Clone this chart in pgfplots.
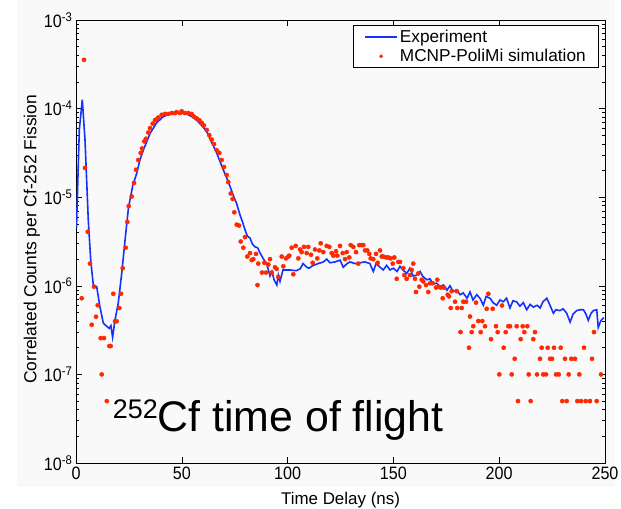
\documentclass[border=0pt]{standalone}
\usepackage{fontspec}
\setmainfont{Liberation Sans}
\newfontfamily\tickfont{Liberation Sans}[FakeStretch=0.9]
\usepackage{pgfplots}
\pgfplotsset{compat=1.18}
\definecolor{expblue}{RGB}{20,50,255}
\definecolor{simred}{RGB}{255,40,0}
\definecolor{bggray}{RGB}{249,249,249}
\pgfplotsset{
  explegend/.style={legend image code/.code={\draw[##1] (0bp,0bp) -- (32bp,0bp);}},
  simlegend/.style={legend image code/.code={\draw[mark repeat=2,mark phase=2,##1,mark size=1.5bp] plot coordinates {(0bp,0bp) (16bp,0bp) (32bp,0bp)};}},
}
\begin{document}
\begin{tikzpicture}
\useasboundingbox (0,0) rectangle (621bp,509bp);
\fill[bggray] (17bp,22bp) rectangle (615bp,509bp);
\begin{axis}[
  at={(76bp,46bp)}, anchor=south west,
  scale only axis, width=529bp, height=443bp,
  ymode=log, xmin=0, xmax=250, ymin=1e-8, ymax=1e-3,
  xtick={0,50,100,150,200,250},
  xticklabels={0,50,100,150,200,250},
  ytick={1e-8,1e-7,1e-6,1e-5,1e-4,1e-3},
  yticklabels={10\textsuperscript{-8},10\textsuperscript{-7},10\textsuperscript{-6},10\textsuperscript{-5},10\textsuperscript{-4},10\textsuperscript{-3}},
  xticklabel style={font=\tickfont\fontsize{18}{18}\selectfont},
  yticklabel style={font=\tickfont\fontsize{18}{18}\selectfont},
  major tick length=6bp, minor tick length=3bp,
  every tick/.style={black, line width=0.6bp},
  axis line style={black, line width=0.8bp},
  xlabel={Time Delay (ns)},
  xlabel style={at={(axis description cs:0.5,-0.0926)}, anchor=base, font=\fontsize{17}{17}\selectfont},
  ylabel={Correlated Counts per Cf-252 Fission},
  ylabel style={at={(axis description cs:-0.0832,0.505)}, anchor=center, font=\fontsize{17.5}{18}\selectfont},
  legend cell align=left,
  legend style={at={(rel axis cs:0.9887,0.9887)}, anchor=north east, draw=black, line width=0.6bp, fill=white,
    font=\fontsize{17.3}{19}\selectfont, inner xsep=11bp, inner ysep=2.5bp, row sep=1.5bp},
]
\addplot[color=expblue, line width=1.6bp, mark=none, explegend] coordinates {
(0.24,4.57e-6) (1.56,5.75e-5) (2.98,1.26e-4) (4.25,4.47e-5) (5.81,5.50e-6) (6.95,1.95e-6)
(8.18,1.02e-6) (9.78,9.77e-7) (11.34,5.75e-7) (12.9,3.80e-7) (13.7,3.63e-7) (15.7,3.31e-7)
(16.5,3.55e-7) (17.3,2.63e-7) (18.4,4.07e-7) (20.0,6.46e-7) (21.6,1.38e-6) (23.2,3.31e-6)
(24.7,7.24e-6) (25.5,9.33e-6) (26.9,1.38e-5) (28.7,1.86e-5) (30.2,2.63e-5) (31.8,3.39e-5)
(35.0,5.25e-5) (38.1,6.92e-5) (41.3,8.13e-5) (44.4,8.71e-5) (47.6,8.91e-5) (50.1,8.91e-5)
(52.3,8.71e-5) (54.7,8.13e-5) (57.0,7.41e-5) (59.4,6.46e-5) (61.8,5.50e-5) (64.1,4.17e-5)
(66.5,3.16e-5) (68.1,2.51e-5) (69.6,2.04e-5) (71.2,1.66e-5) (72.8,1.32e-5) (74.3,1.05e-5)
(75.9,8.51e-6) (77.5,6.31e-6) (78.7,5.25e-6) (79.9,4.27e-6) (81.0,3.63e-6) (82.2,3.47e-6)
(83.4,2.95e-6) (84.6,2.75e-6) (85.8,2.69e-6) (87.0,2.34e-6) (88.4,2.04e-6) (90.1,1.78e-6)
(91.7,1.29e-6) (92.6,1.45e-6) (93.6,1.17e-6) (94.9,1.02e-6) (95.6,1.32e-6) (96.4,1.12e-6)
(97.8,1.51e-6) (101.1,1.51e-6) (104.0,1.48e-6) (105.9,1.55e-6) (107.3,1.78e-6) (109.0,1.62e-6)
(110.1,1.58e-6) (112.1,1.70e-6) (114.4,1.78e-6) (116.9,1.86e-6) (118.5,2.00e-6) (120.0,1.82e-6)
(122.4,1.86e-6) (124.8,1.95e-6) (126.3,1.62e-6) (128.1,1.78e-6) (129.5,1.86e-6) (131.9,1.78e-6)
(134.2,1.82e-6) (136.6,1.86e-6) (138.9,1.78e-6) (140.5,1.45e-6) (141.8,1.78e-6) (143.7,1.62e-6)
(145.2,1.51e-6) (146.8,1.70e-6) (148.4,1.51e-6) (150.0,1.58e-6) (151.7,1.45e-6) (153.1,1.66e-6)
(154.5,1.51e-6) (156.3,1.38e-6) (157.8,1.58e-6) (159.3,1.29e-6) (161.0,1.32e-6) (162.6,1.45e-6)
(164.1,1.26e-6) (165.9,1.17e-6) (167.3,1.20e-6) (168.7,1.05e-6) (170.5,1.07e-6) (172.0,9.77e-7)
(173.6,1.02e-6) (175.3,8.91e-7) (176.7,1.00e-6) (178.2,8.71e-7) (179.9,8.91e-7) (181.5,7.94e-7)
(183.0,8.32e-7) (184.8,7.24e-7) (186.2,8.51e-7) (187.6,6.92e-7) (189.4,7.94e-7) (190.9,7.24e-7)
(192.5,6.03e-7) (193.8,7.59e-7) (195.7,7.24e-7) (197.1,6.46e-7) (198.8,6.03e-7) (200.4,6.92e-7)
(201.9,6.61e-7) (203.5,7.24e-7) (205.1,5.62e-7) (206.5,6.76e-7) (208.2,6.61e-7) (209.8,5.89e-7)
(211.4,6.46e-7) (213.0,5.37e-7) (214.6,6.17e-7) (216.1,5.75e-7) (217.9,6.03e-7) (219.3,5.62e-7)
(220.7,6.61e-7) (222.5,7.24e-7) (224.0,6.03e-7) (225.6,4.90e-7) (226.8,5.37e-7) (228.7,5.25e-7)
(230.2,5.50e-7) (231.9,4.90e-7) (233.5,3.89e-7) (234.9,4.79e-7) (236.6,5.25e-7) (238.2,5.37e-7)
(239.8,5.37e-7) (241.0,4.79e-7) (242.1,4.07e-7) (243.4,4.90e-7) (244.5,5.25e-7) (246.1,5.37e-7)
(246.8,3.39e-7) (248.1,4.07e-7) (249.5,4.37e-7)
};
\addlegendentry{Experiment}
\addplot[only marks, mark=*, color=simred, mark size=2.1bp, mark options={draw=none, fill=simred}, simlegend] coordinates {
(3.78,3.55e-4) (4.25,2.14e-5) (5.53,4.07e-6) (6.62,1.78e-6) (8.51,9.77e-7) (2.69,7.24e-7)
(10.26,6.03e-7) (9.45,4.47e-7) (7.42,3.63e-7) (11.67,2.57e-7) (13.23,2.57e-7) (15.74,2.09e-7)
(16.40,2.09e-7) (12.15,1.0e-7) (14.56,5.0e-8) (17.63,8.13e-7) (18.43,3.98e-7) (19.23,3.98e-7)
(20.46,5.62e-7) (21.27,8.13e-7) (22.07,1.58e-6) (23.49,2.69e-6) (24.24,5.25e-6) (24.91,7.94e-6)
(26.32,1.02e-5) (27.41,1.45e-5) (28.36,2.04e-5) (29.44,2.63e-5) (30.58,3.16e-5) (31.19,3.55e-5)
(32.28,4.27e-5) (33.08,4.57e-5) (34.17,5.37e-5) (34.97,6.03e-5) (36.25,6.76e-5) (37.33,7.41e-5)
(38.14,7.59e-5) (38.89,7.94e-5) (40.50,8.51e-5) (42.06,8.71e-5) (43.62,8.71e-5) (45.23,8.91e-5)
(46.79,8.91e-5) (47.59,9.12e-5) (49.15,8.91e-5) (49.95,9.33e-5) (51.51,8.91e-5) (53.07,8.91e-5)
(54.68,8.71e-5) (55.77,8.13e-5) (57.04,7.76e-5) (58.27,7.41e-5) (59.40,6.92e-5) (60.49,6.46e-5)
(61.77,5.75e-5) (63.00,5.01e-5) (64.13,4.47e-5) (65.22,3.98e-5) (66.49,3.39e-5) (67.72,3.16e-5)
(68.86,2.63e-5) (69.94,2.19e-5) (71.22,1.78e-5) (71.97,1.48e-5) (73.11,1.10e-5) (74.05,9.55e-6)
(74.81,6.76e-6) (75.95,4.90e-6) (77.03,4.79e-6) (77.84,3.16e-6) (79.06,2.69e-6) (79.87,3.55e-6)
(80.95,2.14e-6) (82.23,2.34e-6) (83.03,1.95e-6) (83.79,2.00e-6) (85.07,2.29e-6) (86.15,1.78e-6)
(85.78,1.02e-6) (87.90,1.41e-6) (88.99,1.82e-6) (89.79,1.41e-6) (90.88,1.74e-6) (91.68,2.00e-6)
(92.49,1.41e-6) (94.05,1.62e-6) (94.85,1.55e-6) (95.60,1.26e-6) (97.21,2.14e-6) (97.97,1.66e-6)
(99.24,2.04e-6) (100.33,2.14e-6) (100.80,2.19e-6) (101.94,2.69e-6) (102.69,1.35e-6) (103.83,2.82e-6)
(105.06,2.04e-6) (105.86,2.57e-6) (106.66,2.40e-6) (107.75,2.75e-6) (109.03,2.34e-6) (109.78,2.75e-6)
(111.06,2.24e-6) (111.86,1.82e-6) (112.95,2.57e-6) (114.04,2.04e-6) (114.98,2.51e-6) (115.64,3.02e-6)
(116.87,2.40e-6) (118.48,2.82e-6) (119.71,2.75e-6) (120.84,2.34e-6) (121.60,2.19e-6) (122.87,2.45e-6)
(123.49,2.19e-6) (124.76,2.82e-6) (126.04,2.34e-6) (127.13,2.00e-6) (127.93,2.40e-6) (129.16,2.09e-6)
(129.82,2.88e-6) (131.05,2.75e-6) (132.33,2.40e-6) (133.41,1.78e-6) (133.88,2.88e-6) (135.02,2.88e-6)
(135.77,2.88e-6) (136.58,2.51e-6) (137.67,2.51e-6) (138.61,2.29e-6) (139.27,2.04e-6) (140.50,2.00e-6)
(141.78,2.29e-6) (142.58,1.82e-6) (143.67,2.51e-6) (144.47,2.14e-6) (145.23,2.14e-6) (146.50,2.09e-6)
(147.59,2.09e-6) (148.72,2.04e-6) (149.67,1.78e-6) (150.43,2.09e-6) (152.32,1.86e-6) (153.12,1.86e-6)
(151.56,1.20e-6) (154.68,1.58e-6) (155.15,1.32e-6) (156.28,1.20e-6) (157.84,1.32e-6) (158.65,1.51e-6)
(159.40,1.78e-6) (160.21,1.20e-6) (161.77,1.38e-6) (160.68,8.51e-7) (162.24,9.77e-7) (163.37,1.17e-6)
(164.13,1.12e-6) (165.41,1.02e-6) (166.49,8.51e-7) (167.30,1.07e-6) (168.57,1.07e-6) (170.13,9.55e-7)
(170.75,1.17e-6) (171.22,9.77e-7) (172.35,9.55e-7) (173.91,9.55e-7) (173.30,7.24e-7) (175.66,7.94e-7)
(176.28,7.59e-7) (177.55,8.71e-7) (179.11,6.61e-7) (179.91,8.71e-7) (177.08,5.62e-7) (180.20,5.62e-7)
(182.28,5.62e-7) (183.03,6.61e-7) (184.31,6.61e-7) (186.20,4.5e-7) (181.71,3.0e-7) (185.73,2.0e-7)
(187.76,3.5e-7) (187.00,3.0e-7) (189.04,6.46e-7) (190.12,4.0e-7) (191.26,3.0e-7) (192.01,4.0e-7)
(193.29,3.5e-7) (194.09,5.5e-7) (194.85,8.13e-7) (196.12,2.5e-7) (196.93,5.5e-7) (198.49,3.5e-7)
(199.29,3.0e-7) (200.05,1.0e-7) (201.32,6.0e-7) (202.13,2.0e-7) (203.07,3.0e-7) (204.30,3.5e-7)
(205.10,3.5e-7) (205.91,1.0e-7) (207.33,1.5e-7) (208.27,3.5e-7) (208.88,5.0e-8) (210.16,2.5e-7)
(211.11,3.5e-7) (211.86,3.0e-7) (213.28,3.5e-7) (213.94,1.0e-7) (214.89,5.0e-8) (216.12,2.5e-7)
(216.92,3.0e-7) (217.86,1.0e-7) (219.28,1.5e-7) (220.08,2.0e-7) (220.84,1.0e-7) (222.12,1.0e-7)
(222.92,2.0e-7) (224.01,1.5e-7) (224.95,1.5e-7) (225.90,2.0e-7) (226.84,1.0e-7) (228.12,1.0e-7)
(229.07,2.0e-7) (229.82,5.0e-8) (231.10,1.5e-7) (231.90,5.0e-8) (232.84,1.0e-7) (234.07,1.5e-7)
(235.82,1.5e-7) (236.91,5.0e-8) (237.86,1.0e-7) (238.66,5.0e-8) (240.08,2.0e-7) (240.88,5.0e-8)
(242.91,5.0e-8) (243.86,1.5e-7) (244.80,3.0e-7) (246.08,5.0e-8) (248.11,1.0e-7)
};
\addlegendentry{MCNP-PoliMi simulation}
\end{axis}
\node[anchor=base west, inner sep=0pt, font=\fontsize{43}{43}\selectfont] at (112.7bp,77.3bp)
  {\raisebox{13bp}{\fontsize{27}{27}\selectfont 252}Cf time of flight};
\end{tikzpicture}
\end{document}
